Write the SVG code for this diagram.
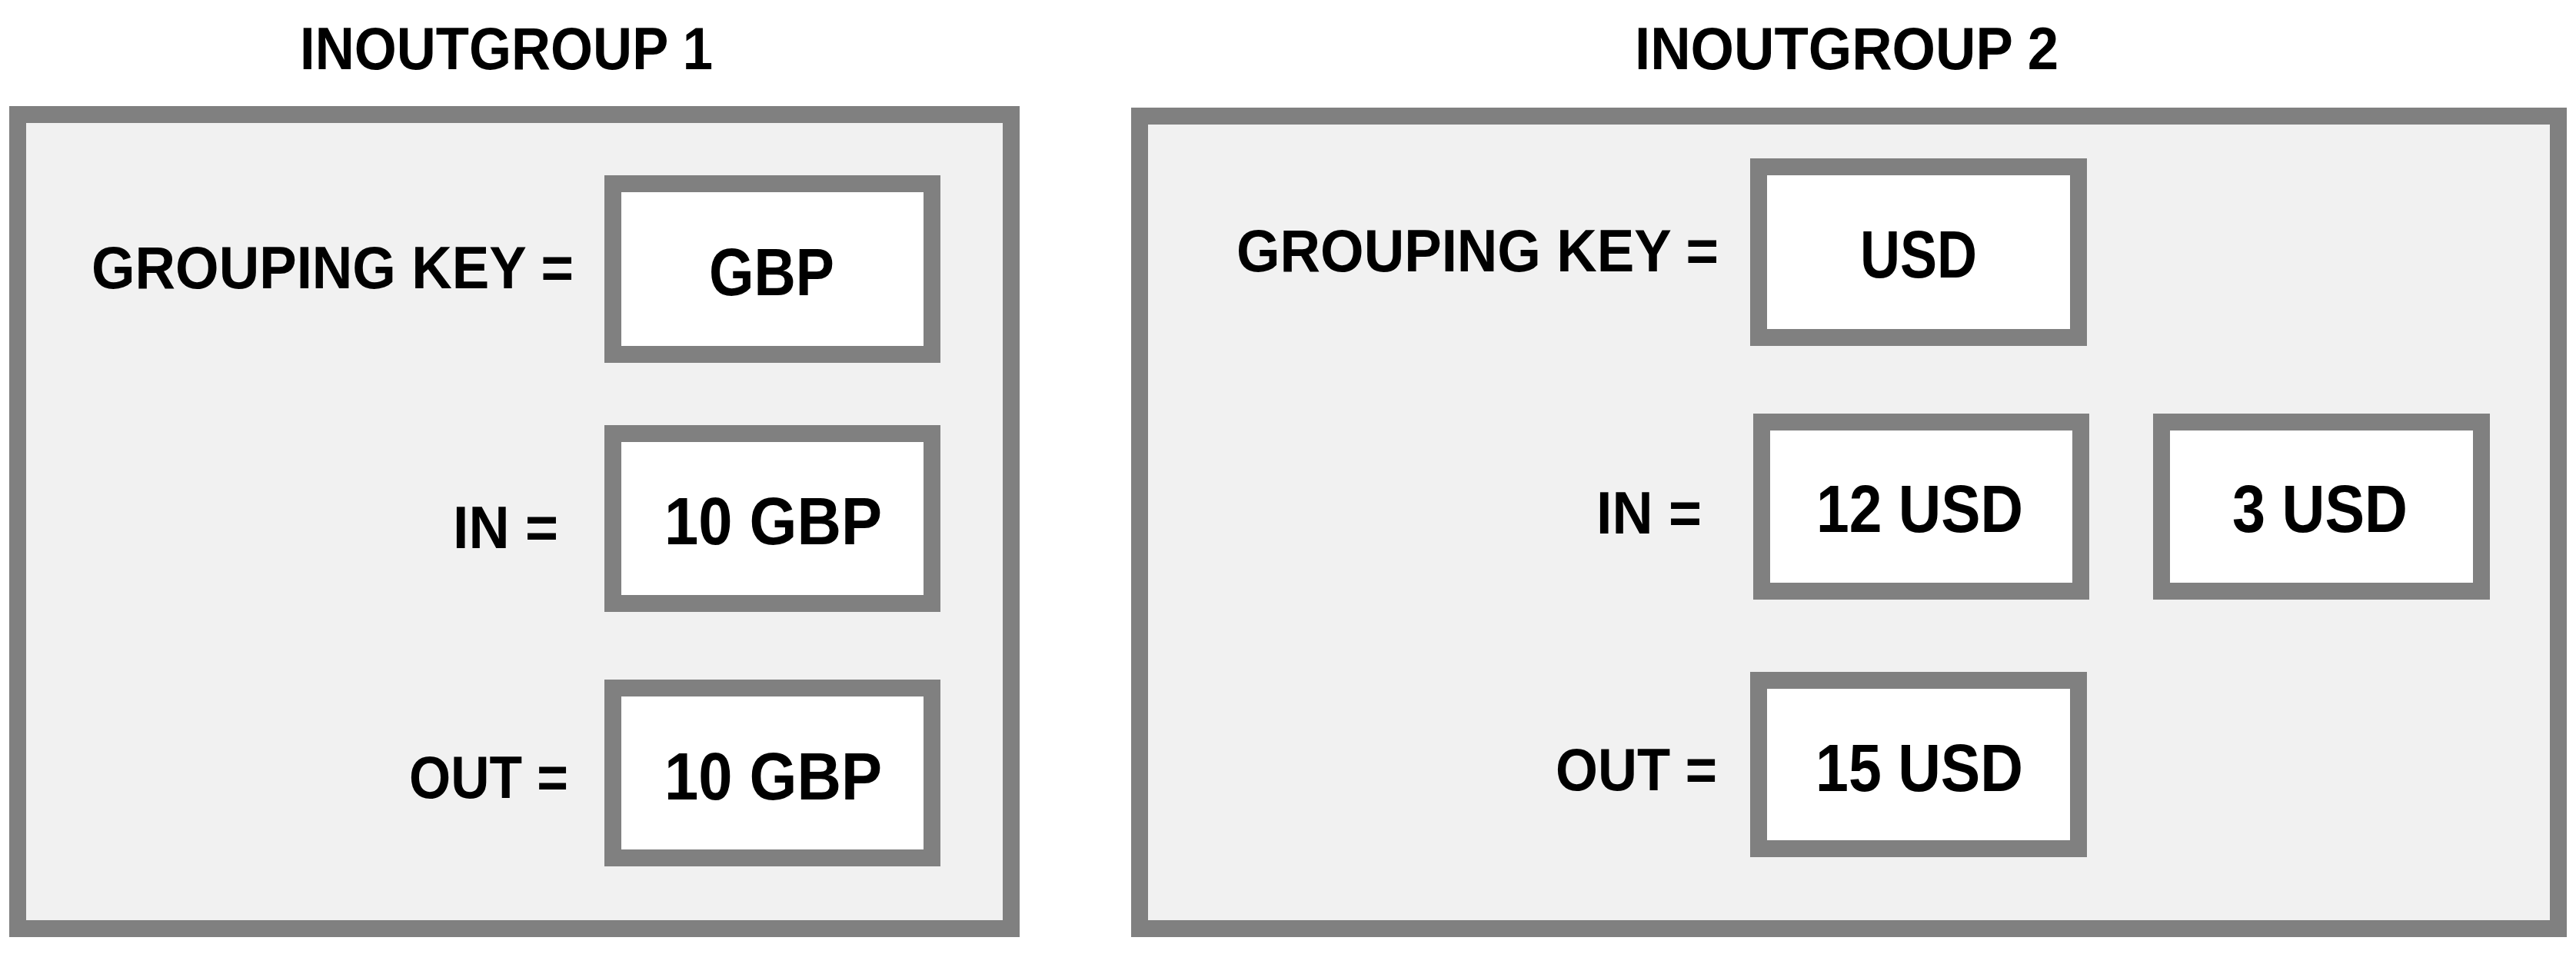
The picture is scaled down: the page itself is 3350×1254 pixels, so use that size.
<svg xmlns="http://www.w3.org/2000/svg" width="3350" height="1254" viewBox="0 0 3350 1254">
<style>
.frame{fill:#f1f1f1;stroke:#808080;stroke-width:22}
.box{fill:#ffffff;stroke:#808080;stroke-width:22}
text{font-family:"Liberation Sans",Arial,sans-serif;font-weight:bold;fill:#000}
.title{font-size:78px}
.lbl{font-size:78px}
.val{font-size:88px}
</style>
<rect width="3350" height="1254" fill="#ffffff"/>
<g id="group1">
<text class="title" x="390" y="90" textLength="537" lengthAdjust="spacingAndGlyphs">INOUTGROUP 1</text>
<rect class="frame" x="23" y="149" width="1292" height="1059"/>
<g id="g1-key">
<text class="lbl" x="119" y="375" textLength="627" lengthAdjust="spacingAndGlyphs">GROUPING KEY =</text>
<rect class="box" x="797" y="239" width="415" height="222"/>
<text class="val" x="922" y="384" textLength="163" lengthAdjust="spacingAndGlyphs">GBP</text>
</g>
<g id="g1-in">
<text class="lbl" x="589" y="713" textLength="137" lengthAdjust="spacingAndGlyphs">IN =</text>
<rect class="box" x="797" y="564" width="415" height="221"/>
<text class="val" x="864" y="708" textLength="283" lengthAdjust="spacingAndGlyphs">10 GBP</text>
</g>
<g id="g1-out">
<text class="lbl" x="532" y="1038" textLength="207" lengthAdjust="spacingAndGlyphs">OUT =</text>
<rect class="box" x="797" y="895" width="415" height="221"/>
<text class="val" x="864" y="1040" textLength="283" lengthAdjust="spacingAndGlyphs">10 GBP</text>
</g>
</g>
<g id="group2">
<text class="title" x="2126" y="90" textLength="551" lengthAdjust="spacingAndGlyphs">INOUTGROUP 2</text>
<rect class="frame" x="1482" y="151" width="1845" height="1057"/>
<g id="g2-key">
<text class="lbl" x="1608" y="353" textLength="627" lengthAdjust="spacingAndGlyphs">GROUPING KEY =</text>
<rect class="box" x="2287" y="217" width="416" height="222"/>
<text class="val" x="2419" y="361" textLength="152" lengthAdjust="spacingAndGlyphs">USD</text>
</g>
<g id="g2-in">
<text class="lbl" x="2076" y="694" textLength="137" lengthAdjust="spacingAndGlyphs">IN =</text>
<rect class="box" x="2291" y="549" width="415" height="220"/>
<text class="val" x="2362" y="692" textLength="269" lengthAdjust="spacingAndGlyphs">12 USD</text>
<rect class="box" x="2811" y="549" width="416" height="220"/>
<text class="val" x="2903" y="692" textLength="228" lengthAdjust="spacingAndGlyphs">3 USD</text>
</g>
<g id="g2-out">
<text class="lbl" x="2023" y="1028" textLength="210" lengthAdjust="spacingAndGlyphs">OUT =</text>
<rect class="box" x="2287" y="885" width="416" height="219"/>
<text class="val" x="2361" y="1029" textLength="270" lengthAdjust="spacingAndGlyphs">15 USD</text>
</g>
</g>
</svg>
